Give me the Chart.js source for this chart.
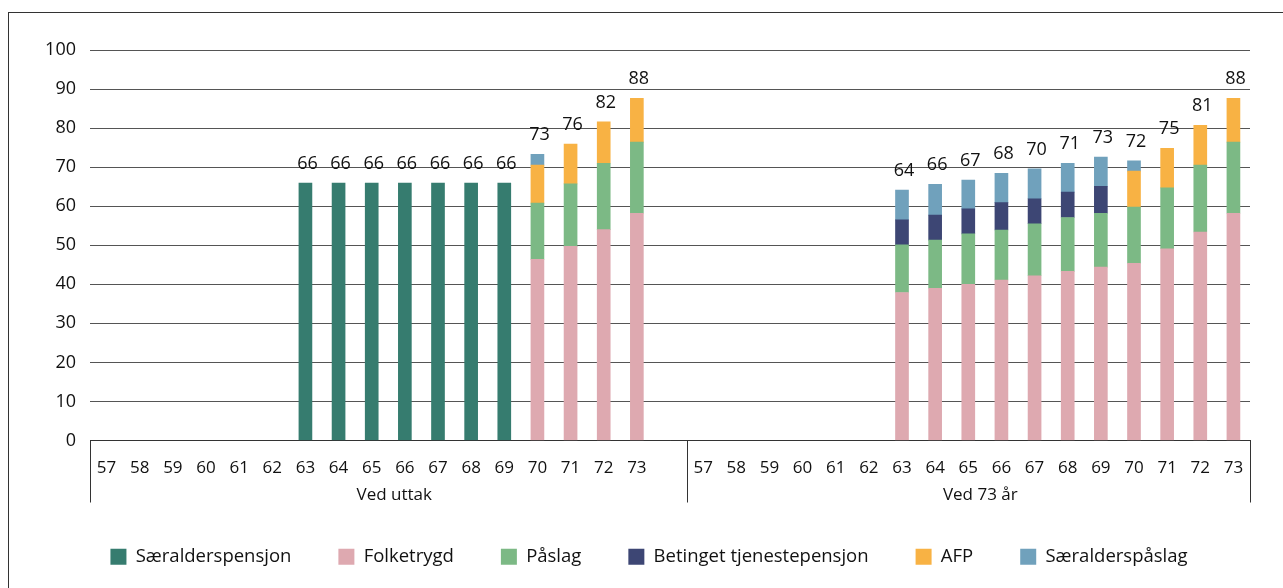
<!DOCTYPE html>
<html>
<head>
<meta charset="utf-8">
<script src="https://cdn.jsdelivr.net/npm/chart.js@4.4.1/dist/chart.umd.min.js"></script>
<style>
  html, body { margin: 0; padding: 0; background: #fff; }
  #wrap { position: relative; width: 1283px; height: 588px; overflow: hidden; }
  #frame { position: absolute; left: 8px; top: 12px; width: 1400px; height: 700px;
           border-top: 1.5px solid #333; border-left: 1.5px solid #333; }
  #chart { position: absolute; left: 0; top: 0; }
</style>
</head>
<body>
<div id="wrap">
  <div id="frame"></div>
  <canvas id="chart" width="1283" height="588"></canvas>
</div>
<script>
// Ages for each group, the 18th slot of the first group is left blank
var ages = ['57','58','59','60','61','62','63','64','65','66','67','68','69','70','71','72','73'];
var groups = ['Ved uttak', 'Ved 73 år'];
var labels = ages.concat(['']).concat(ages);

// Series values, one entry per slot (35 slots), null = no bar
var saeralderspensjon = [null,null,null,null,null,null,65.9,65.9,65.9,65.9,65.9,65.9,65.9,null,null,null,null, null,
                         null,null,null,null,null,null,null,null,null,null,null,null,null,null,null,null,null];
var folketrygd = [null,null,null,null,null,null,null,null,null,null,null,null,null,46.4,49.7,54.0,58.2, null,
                  null,null,null,null,null,null,37.9,39.0,40.0,41.1,42.2,43.3,44.4,45.4,49.1,53.4,58.2];
var paslag = [null,null,null,null,null,null,null,null,null,null,null,null,null,14.4,16.0,17.0,18.2, null,
              null,null,null,null,null,null,12.2,12.3,12.9,12.8,13.3,13.8,13.8,14.4,15.6,17.1,18.2];
var betinget = [null,null,null,null,null,null,null,null,null,null,null,null,null,null,null,null,null, null,
                null,null,null,null,null,null,6.4,6.4,6.4,7.0,6.4,6.5,6.9,null,null,null,null];
var afp = [null,null,null,null,null,null,null,null,null,null,null,null,null,9.7,10.2,10.6,11.2, null,
           null,null,null,null,null,null,null,null,null,null,null,null,null,9.2,10.1,10.2,11.2];
var saeralderspaslag = [null,null,null,null,null,null,null,null,null,null,null,null,null,2.8,null,null,null, null,
                        null,null,null,null,null,null,7.6,7.9,7.4,7.5,7.7,7.4,7.5,2.6,null,null,null];

var series = [
  {label: 'Særalderspensjon', data: saeralderspensjon, color: '#367c6f'},
  {label: 'Folketrygd', data: folketrygd, color: '#dea9b0'},
  {label: 'Påslag', data: paslag, color: '#7cb985'},
  {label: 'Betinget tjenestepensjon', data: betinget, color: '#3d4674'},
  {label: 'AFP', data: afp, color: '#f8b244'},
  {label: 'Særalderspåslag', data: saeralderspaslag, color: '#70a1bc'}
];

var font_family = '"Open Sans", "Noto Sans", sans-serif';
var text_color = '#111';

// Totals on top of each stack
var total_labels = {
  id: 'total_labels',
  afterDatasetsDraw: function(chart){
    var ctx = chart.ctx;
    var y = chart.scales.y;
    var x = chart.scales.x;
    ctx.save();
    ctx.font = '18px ' + font_family;
    ctx.fillStyle = text_color;
    ctx.textAlign = 'center';
    ctx.textBaseline = 'alphabetic';
    for(var i = 0; i < labels.length; ++i){
      var sum = 0;
      series.forEach(function(s){ sum += s.data[i] || 0; });
      if(sum <= 0) continue;
      ctx.fillText(Math.round(sum).toString(), x.getPixelForValue(i) + 2, y.getPixelForValue(sum) - 14);
    }
    ctx.restore();
  }
};

// Second level of the category axis: boxes and group names
var group_axis = {
  id: 'group_axis',
  afterDraw: function(chart){
    var ctx = chart.ctx;
    var x = chart.scales.x;
    var area = chart.chartArea;
    var split = (x.getPixelForValue(17) + x.getPixelForValue(18)) / 2;
    var edges = [area.left, split, area.right];
    ctx.save();
    ctx.strokeStyle = '#333';
    ctx.lineWidth = 1;
    edges.forEach(function(px){
      ctx.beginPath();
      ctx.moveTo(Math.round(px) + 0.5, area.bottom);
      ctx.lineTo(Math.round(px) + 0.5, area.bottom + 62);
      ctx.stroke();
    });
    ctx.font = '17px ' + font_family;
    ctx.fillStyle = text_color;
    ctx.textAlign = 'center';
    ctx.textBaseline = 'middle';
    ctx.fillText(groups[0], (edges[0] + edges[1]) / 2 + 6, area.bottom + 55);
    ctx.fillText(groups[1], (edges[1] + edges[2]) / 2 + 12, area.bottom + 55);
    ctx.restore();
  }
};

// Nudge the legend a bit right and up, like the original
var legend_nudge = {
  id: 'legend_nudge',
  afterLayout: function(chart){
    var lg = chart.legend;
    lg.left += 24; lg.right += 24;
    lg.top -= 4; lg.bottom -= 4;
  }
};

var ctx = document.getElementById('chart');
new Chart(ctx, {
  type: 'bar',
  data: {
    labels: labels,
    datasets: series.map(function(s){
      return {
        label: s.label,
        data: s.data,
        backgroundColor: s.color,
        borderWidth: 0,
        barThickness: 13
      };
    })
  },
  plugins: [total_labels, group_axis, legend_nudge],
  options: {
    responsive: false,
    animation: false,
    layout: {padding: {top: 50, right: 33, left: 0, bottom: 8}},
    plugins: {
      tooltip: {enabled: false},
      legend: {
        position: 'bottom',
        labels: {
          boxWidth: 16,
          boxHeight: 16,
          padding: 47,
          color: text_color,
          font: {size: 18.5, family: font_family}
        }
      }
    },
    scales: {
      x: {
        stacked: true,
        grid: {display: false, drawTicks: false},
        border: {display: true, color: '#333'},
        ticks: {
          autoSkip: false,
          maxRotation: 0,
          padding: 17,
          color: text_color,
          font: {size: 17, family: font_family}
        },
        afterFit: function(s){ s.height = 64; }
      },
      y: {
        stacked: true,
        min: 0,
        max: 100,
        grid: {color: '#555', lineWidth: 1, drawTicks: false},
        border: {display: false},
        ticks: {
          stepSize: 10,
          padding: 14,
          color: text_color,
          font: {size: 18, family: font_family}
        },
        afterFit: function(s){ s.width = 90; }
      }
    }
  }
});
</script>
</body>
</html>
